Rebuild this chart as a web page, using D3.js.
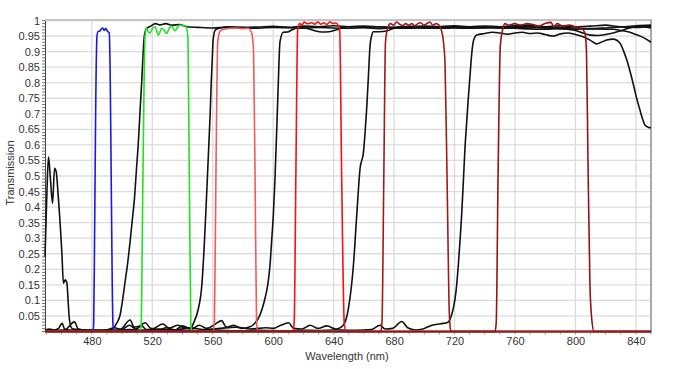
<!DOCTYPE html>
<html>
<head>
<meta charset="utf-8">
<script src="https://cdn.jsdelivr.net/npm/d3@7"></script>
<style>
  body { margin: 0; background: #fff; }
  text { font-family: "Liberation Sans", Arial, sans-serif; }
</style>
</head>
<body>
<svg id="chart" width="685" height="369"></svg>
<script>
// filter transmission curves, [wavelength nm, transmission]
const xTicks = [480, 520, 560, 600, 640, 680, 720, 760, 800, 840];
const yTicks = [0.05, 0.1, 0.15, 0.2, 0.25, 0.3, 0.35, 0.4, 0.45, 0.5, 0.55, 0.6, 0.65, 0.7, 0.75, 0.8, 0.85, 0.9, 0.95, 1];
const yTickLabels = ["0.05", "0.1", "0.15", "0.2", "0.25", "0.3", "0.35", "0.4", "0.45", "0.5", "0.55", "0.6", "0.65", "0.7", "0.75", "0.8", "0.85", "0.9", "0.95", "1"];

// longpass filters (black)
const lp500 = [[449,0.24],[450.3,0.455],[451.3,0.562],[452.6,0.49],[454,0.412],[455.3,0.525],[456.4,0.514],[457.7,0.44],[459,0.349],[460.2,0.25],[461.2,0.155],[462.4,0.166],[463.5,0.156],[464.4,0.09],[465.2,0.037],[466.8,0.01],[468,0.008],[472,0.006],[476,0.004],[482,0.003],[488,0.004],[492,0.006],[494.3,0.01],[496.2,0.025],[498.7,0.053],[500.3,0.1],[502,0.16],[503.7,0.22],[505.3,0.289],[506.7,0.355],[508.2,0.428],[509.5,0.52],[510.8,0.61],[511.9,0.71],[513,0.803],[514,0.9],[514.8,0.953],[516.3,0.975],[519,0.982],[522,0.99],[525,0.986],[529,0.99],[533,0.985],[538,0.987],[543,0.98],[550,0.978],[560,0.976],[570,0.978],[580,0.977],[590,0.975],[600,0.978],[610,0.977],[620,0.975],[630,0.978],[640,0.976],[650,0.975],[660,0.977],[670,0.974],[680,0.976],[690,0.975],[700,0.977],[710,0.975],[720,0.976],[730,0.975],[740,0.978],[750,0.976],[760,0.977],[770,0.979],[780,0.976],[790,0.978],[800,0.976],[810,0.974],[820,0.976],[830,0.979],[840,0.978],[850,0.982]];
const lp550 = [[449,0.004],[452,0.008],[455,0.005],[458,0.01],[460.3,0.026],[462,0.008],[466,0.004],[472,0.003],[480,0.004],[488,0.003],[495,0.012],[499,0.008],[505.3,0.037],[508,0.014],[513,0.018],[516,0.006],[521,0.01],[527,0.024],[531,0.011],[537,0.02],[541,0.012],[545.5,0.012],[547.5,0.03],[550.3,0.07],[552.8,0.15],[554.3,0.27],[555.5,0.39],[556.5,0.5],[557.4,0.6],[558.3,0.7],[559,0.8],[559.7,0.88],[560.3,0.94],[561.8,0.97],[565,0.976],[570,0.98],[580,0.978],[590,0.979],[600,0.981],[610,0.978],[620,0.982],[630,0.98],[640,0.983],[650,0.98],[660,0.982],[670,0.98],[680,0.978],[690,0.981],[700,0.978],[710,0.98],[720,0.981],[730,0.977],[740,0.976],[750,0.98],[760,0.982],[770,0.98],[780,0.977],[790,0.974],[800,0.968],[805,0.96],[810,0.953],[815,0.952],[820,0.955],[825,0.96],[830,0.967],[835,0.975],[840,0.98],[845,0.979],[850,0.976]];
const lp600 = [[449,0.006],[455,0.003],[462,0.005],[468.5,0.031],[471,0.008],[478,0.003],[486,0.004],[494,0.003],[500,0.006],[505,0.02],[509,0.008],[515.3,0.028],[519,0.01],[525,0.006],[529,0.012],[535,0.005],[540,0.018],[546,0.008],[551,0.02],[556,0.01],[562,0.025],[565.8,0.035],[569,0.014],[574,0.02],[579,0.01],[584.7,0.015],[587.5,0.025],[590.2,0.042],[592.5,0.07],[594.6,0.107],[596.4,0.15],[597.9,0.214],[599.1,0.3],[600.1,0.375],[601.1,0.48],[601.9,0.589],[602.7,0.7],[603.4,0.803],[604.5,0.932],[606.7,0.962],[609.5,0.963],[612.5,0.97],[617.5,0.98],[622,0.975],[627,0.968],[632,0.963],[637,0.964],[642,0.97],[646,0.978],[650,0.98],[660,0.978],[670,0.98],[680,0.977],[690,0.978],[700,0.975],[710,0.977],[720,0.978],[730,0.975],[740,0.978],[750,0.976],[760,0.975],[770,0.973],[780,0.972],[790,0.974],[800,0.972],[810,0.973],[820,0.972],[825,0.972],[830,0.968],[836,0.962],[840,0.955],[845,0.945],[850,0.93]];
const lp650 = [[449,0.002],[458,0.004],[466,0.002],[475,0.005],[485,0.003],[495,0.004],[505,0.006],[515,0.004],[525,0.008],[535,0.005],[545,0.012],[555,0.006],[565,0.01],[575,0.014],[585,0.008],[595,0.012],[600,0.01],[605,0.02],[610.2,0.028],[613.5,0.01],[619,0.008],[624.5,0.02],[629.5,0.01],[635.5,0.018],[641.5,0.008],[646.5,0.021],[649.8,0.075],[653.1,0.214],[655.3,0.375],[657.5,0.525],[659.7,0.575],[660.8,0.64],[661.9,0.72],[663,0.82],[664.1,0.92],[665,0.948],[666.3,0.964],[670,0.964],[675,0.966],[680,0.975],[690,0.98],[700,0.982],[710,0.98],[720,0.983],[730,0.98],[740,0.982],[750,0.98],[760,0.983],[770,0.985],[780,0.98],[790,0.983],[800,0.98],[810,0.982],[820,0.985],[830,0.98],[840,0.983],[850,0.985]];
const lp720 = [[449,0.003],[460,0.002],[470,0.004],[480,0.002],[490,0.003],[500,0.002],[510,0.004],[520,0.003],[530,0.002],[540,0.004],[550,0.003],[560,0.005],[570,0.003],[580,0.002],[590,0.004],[600,0.003],[610,0.002],[620,0.004],[630,0.003],[640,0.005],[650,0.004],[660,0.005],[665,0.006],[670.7,0.02],[674,0.008],[679,0.01],[685.1,0.032],[689,0.012],[694,0.005],[699,0.008],[705,0.02],[711,0.025],[715.7,0.03],[717.5,0.045],[719.2,0.075],[721,0.13],[722.5,0.214],[723.6,0.29],[724.7,0.375],[725.8,0.48],[726.9,0.589],[728,0.67],[729.1,0.75],[730.2,0.82],[731.3,0.889],[732.4,0.932],[734.7,0.953],[740,0.958],[745,0.962],[750,0.96],[755,0.956],[760,0.96],[765,0.962],[770,0.958],[775,0.96],[780,0.955],[785,0.95],[790,0.957],[795,0.96],[800,0.955],[805,0.948],[809.7,0.937],[814,0.925],[817,0.93],[820.7,0.937],[825,0.94],[829.5,0.927],[832,0.9],[834,0.873],[836.2,0.835],[838.3,0.795],[840.5,0.75],[842.7,0.712],[844.3,0.685],[846,0.664],[848,0.657],[850,0.655]];

// bandpass filters (coloured)
const bp488 = [[449,0],[480.7,0],[481.2,0.02],[481.8,0.3],[482.5,0.7],[483.4,0.95],[484.2,0.965],[485.2,0.966],[486.2,0.972],[487.2,0.976],[488.2,0.968],[489.2,0.975],[490.2,0.966],[491.5,0.96],[492.2,0.8],[492.8,0.5],[493.5,0.15],[494,0.02],[494.7,0],[850,0]];
const bp529 = [[449,0],[511.3,0],[512.6,0.02],[513.8,0.5],[515.2,0.95],[516.2,0.975],[517.2,0.965],[518.5,0.96],[520.2,0.975],[521.8,0.98],[524,0.953],[526.2,0.975],[527.7,0.97],[529.5,0.958],[531.2,0.975],[532.8,0.982],[535,0.967],[536.7,0.978],[538.3,0.985],[540.2,0.984],[542.2,0.982],[543.5,0.95],[544.5,0.5],[545.5,0.02],[546.2,0],[850,0]];
const bp575 = [[449,0],[560.3,0],[561.1,0.03],[562.1,0.5],[563.3,0.93],[564.8,0.965],[567.3,0.972],[571.3,0.975],[575.3,0.976],[579.3,0.974],[583.3,0.975],[585.8,0.96],[587,0.9],[588,0.5],[589,0.03],[589.8,0],[850,0]];
const bp630 = [[449,0],[613,0],[613.9,0.03],[615,0.5],[616.2,0.97],[617.5,0.99],[619,0.985],[620.5,0.995],[622.5,0.99],[625.5,0.993],[627.5,0.988],[629.5,0.996],[631.5,0.988],[633.5,0.993],[635.5,0.987],[637.5,0.996],[639.5,0.99],[641.5,0.992],[644,0.97],[645.3,0.5],[647,0.03],[648,0],[850,0]];
const bp695 = [[449,0],[671.2,0],[672,0.03],[673.2,0.5],[674.3,0.93],[675.7,0.975],[677.7,0.99],[679.7,0.985],[681.7,0.995],[683.7,0.988],[685.7,0.984],[687.7,0.99],[689.7,0.985],[691.7,0.99],[693.7,0.983],[695.7,0.99],[697.7,0.993],[699.7,0.985],[701.7,0.99],[703.7,0.995],[705.7,0.985],[707.7,0.99],[709.7,0.985],[711.2,0.97],[712.7,0.93],[713.7,0.86],[714.7,0.6],[715.5,0.35],[716.3,0.1],[717,0.02],[717.7,0],[850,0]];
const bp780 = [[449,0],[746.8,0],[747.6,0.03],[748.8,0.5],[750.3,0.92],[751.8,0.97],[753.3,0.99],[755.8,0.985],[759.8,0.99],[763.8,0.985],[767.8,0.99],[771.8,0.987],[775.8,0.982],[779.8,0.99],[783.8,0.994],[785.8,0.98],[787.8,0.99],[791.8,0.982],[795.8,0.985],[799.8,0.98],[803.8,0.975],[806.3,0.96],[807.3,0.9],[808.3,0.55],[809.6,0.15],[810.8,0.04],[812.3,0],[850,0]];

const series = [
  { data: lp500, color: '#111' },
  { data: lp550, color: '#111' },
  { data: lp600, color: '#111' },
  { data: lp650, color: '#111' },
  { data: lp720, color: '#111' },
  { data: bp488, color: '#1a1adf' },
  { data: bp529, color: '#22e022' },
  { data: bp575, color: '#f05a5a' },
  { data: bp630, color: '#f01414' },
  { data: bp695, color: '#9e1b1b' },
  { data: bp780, color: '#921616' },
];

const svg = d3.select('#chart');
const plotL = 45, plotR = 651, plotT = 20.5, plotB = 331.5;

const x = d3.scaleLinear().domain([449, 850]).range([plotL, plotR]);
const y = d3.scaleLinear().domain([0, 1]).range([plotB, plotT]);

// grid
const grid = svg.append('g').attr('stroke', '#dcdcdc').attr('stroke-width', 1.3);
grid.selectAll('.h').data(yTicks).enter().append('line')
  .attr('x1', plotL).attr('x2', plotR)
  .attr('y1', d => y(d)).attr('y2', d => y(d));
grid.selectAll('.v').data(xTicks).enter().append('line')
  .attr('x1', d => x(d)).attr('x2', d => x(d))
  .attr('y1', plotT).attr('y2', plotB);

// frame top / right
svg.append('line').attr('x1', plotL).attr('x2', plotR + 1).attr('y1', plotT - 0.5).attr('y2', plotT - 0.5)
  .attr('stroke', '#c4c4c4').attr('stroke-width', 2);
svg.append('line').attr('x1', plotR).attr('x2', plotR).attr('y1', plotT - 1).attr('y2', plotB)
  .attr('stroke', '#aaa').attr('stroke-width', 2);

// minor ticks
svg.append('g').attr('stroke', '#777').attr('stroke-width', 1)
  .selectAll('line').data(d3.range(0, 101)).enter().append('line')
  .attr('x1', plotL - 3).attr('x2', plotL)
  .attr('y1', d => y(d / 100)).attr('y2', d => y(d / 100));
svg.append('g').attr('stroke', '#999').attr('stroke-width', 1)
  .selectAll('line').data(d3.range(450, 851, 10)).enter().append('line')
  .attr('x1', d => x(d)).attr('x2', d => x(d))
  .attr('y1', plotB).attr('y2', plotB + 3);

// axes
const yAxis = svg.append('g').attr('transform', `translate(${plotL},0)`)
  .call(d3.axisLeft(y).tickValues(yTicks).tickSize(0).tickPadding(5)
    .tickFormat((d, i) => yTickLabels[i]));
yAxis.select('.domain').attr('stroke', '#444');
yAxis.selectAll('text').attr('font-size', 11).attr('fill', '#333')
  .attr('font-family', '"Liberation Sans", Arial, sans-serif');

const xAxis = svg.append('g').attr('transform', `translate(0,${plotB})`)
  .call(d3.axisBottom(x).tickValues(xTicks).tickSize(0).tickPadding(6));
xAxis.select('.domain').attr('stroke', '#444');
xAxis.selectAll('text').attr('font-size', 11).attr('fill', '#333')
  .attr('font-family', '"Liberation Sans", Arial, sans-serif');

// curves
const line = d3.line()
  .x(d => x(d[0]))
  .y(d => y(d[1]))
  .curve(d3.curveMonotoneX);

svg.append('g').attr('fill', 'none')
  .selectAll('path').data(series).enter().append('path')
  .attr('d', d => line(d.data))
  .attr('stroke', d => d.color)
  .attr('stroke-width', 1.6)
  .attr('stroke-linejoin', 'round');

// titles
svg.append('text').attr('x', 347).attr('y', 360).attr('text-anchor', 'middle')
  .attr('font-size', 11).attr('fill', '#333').text('Wavelength (nm)');
svg.append('text').attr('transform', 'translate(14,173) rotate(-90)').attr('text-anchor', 'middle')
  .attr('font-size', 11).attr('fill', '#333').text('Transmission');
</script>
</body>
</html>
